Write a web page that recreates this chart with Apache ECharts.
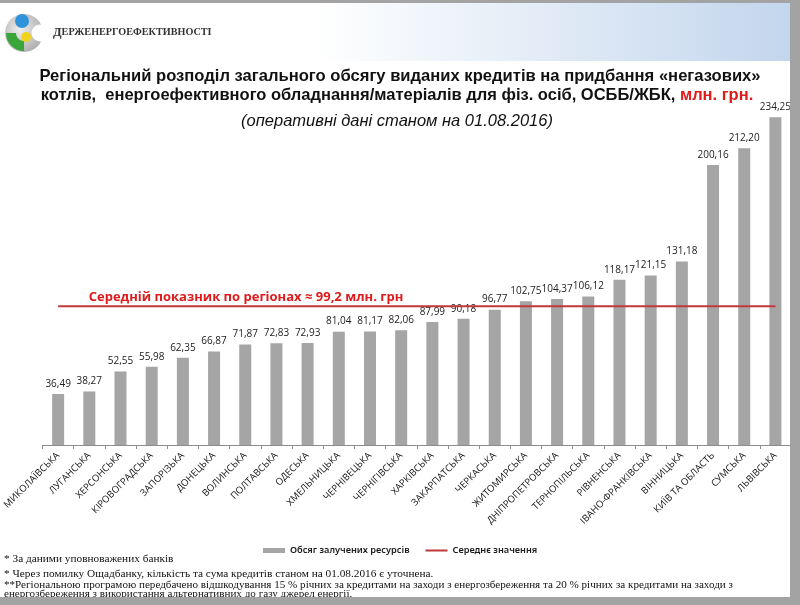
<!DOCTYPE html>
<html>
<head>
<meta charset="utf-8">
<script src="https://cdn.jsdelivr.net/npm/echarts@6/dist/echarts.min.js"></script>
<style>
  html, body { margin: 0; padding: 0; background: #a3a3a3; }
  #chart { width: 800px; height: 605px; }
</style>
</head>
<body>
<div id="chart"></div>
<script>
// регіони, впорядковані за зростанням
const regions = [
  'МИКОЛАЇВСЬКА', 'ЛУГАНСЬКА', 'ХЕРСОНСЬКА', 'КІРОВОГРАДСЬКА', 'ЗАПОРІЗЬКА',
  'ДОНЕЦЬКА', 'ВОЛИНСЬКА', 'ПОЛТАВСЬКА', 'ОДЕСЬКА', 'ХМЕЛЬНИЦЬКА',
  'ЧЕРНІВЕЦЬКА', 'ЧЕРНІГІВСЬКА', 'ХАРКІВСЬКА', 'ЗАКАРПАТСЬКА', 'ЧЕРКАСЬКА',
  'ЖИТОМИРСЬКА', 'ДНІПРОПЕТРОВСЬКА', 'ТЕРНОПІЛЬСЬКА', 'РІВНЕНСЬКА', 'ІВАНО-ФРАНКІВСЬКА',
  'ВІННИЦЬКА', 'КИЇВ ТА ОБЛАСТЬ', 'СУМСЬКА', 'ЛЬВІВСЬКА'
]
// обсяг залучених ресурсів, млн. грн
const volumes = [
  36.49, 38.27, 52.55, 55.98, 62.35,
  66.87, 71.87, 72.83, 72.93, 81.04,
  81.17, 82.06, 87.99, 90.18, 96.77,
  102.75, 104.37, 106.12, 118.17, 121.15,
  131.18, 200.16, 212.20, 234.25
]
const averageValue = 99.2
const averageLine = regions.map(() => averageValue)

const footnotes = [
  '* За даними уповноважених банків',
  '* Через помилку Ощадбанку, кількість та сума кредитів станом на 01.08.2016 є уточнена.',
  '**Регіональною програмою передбачено відшкодування 15 % річних за кредитами на заходи з енергозбереження та 20 % річних за кредитами на заходи з',
  'енергозбереження з використання альтернативних до газу джерел енергії.'
]

const chart = echarts.init(document.getElementById('chart'), null, { renderer: 'canvas' })

const option = {
  backgroundColor: '#a3a3a3',
  animation: false,
  grid: { left: 42, right: 9, top: 95.3, bottom: 160 },
  legend: {
    top: 546,
    left: 263,
    padding: 0,
    itemGap: 16,
    itemWidth: 22,
    itemHeight: 5,
    textStyle: { fontFamily: 'Noto Sans', fontSize: 9.2, color: '#1a1a1a', fontWeight: 600 },
    data: [
      { name: 'Обсяг залучених ресурсів', icon: 'rect' },
      // тонка лінія без маркера
      { name: 'Середнє значення', icon: 'path://M0,0 L0.01,0 M0,1.6 L22,1.6 L22,3.4 L0,3.4 Z M0,5 L0.01,5' }
    ]
  },
  xAxis: {
    type: 'category',
    data: regions,
    axisLine: { lineStyle: { color: '#8c8c8c', width: 1 } },
    axisTick: { show: true, length: 4, lineStyle: { color: '#8c8c8c' } },
    axisLabel: {
      rotate: 45,
      interval: 0,
      margin: 9,
      fontFamily: 'Open Sans',
      fontSize: 9.5,
      color: '#111'
    }
  },
  yAxis: {
    type: 'value',
    min: 0,
    max: 250,
    show: false,
    splitLine: { show: false }
  },
  series: [
    {
      name: 'Обсяг залучених ресурсів',
      type: 'bar',
      data: volumes,
      barWidth: 12,
      itemStyle: { color: '#a5a5a5' },
      label: {
        show: true,
        position: 'top',
        distance: 5,
        fontFamily: 'Open Sans',
        fontSize: 10,
        color: '#222',
        formatter: p => p.value.toFixed(2).replace('.', ',')
      },
      z: 2
    },
    {
      name: 'Середнє значення',
      type: 'line',
      data: averageLine,
      symbol: 'none',
      lineStyle: { color: '#c0393b', width: 2 },
      itemStyle: { color: '#c0393b' },
      z: 3
    }
  ],
  graphic: [
    // сторінка слайду
    { type: 'rect', z: -10, shape: { x: 0, y: 3, width: 790, height: 594 }, style: { fill: '#ffffff' } },
    {
      type: 'rect', z: -9,
      shape: { x: 0, y: 3, width: 790, height: 58 },
      style: {
        fill: new echarts.graphic.LinearGradient(0, 0, 1, 0, [
          { offset: 0, color: '#ffffff' },
          { offset: 0.4, color: '#ffffff' },
          { offset: 1, color: '#c3d6ed' }
        ])
      }
    },
    // логотип
    {
      type: 'circle', z: 5, shape: { cx: 24, cy: 33, r: 19 },
      style: {
        fill: new echarts.graphic.RadialGradient(0.4, 0.4, 0.7, [
          { offset: 0, color: '#eeeeee' },
          { offset: 1, color: '#a8a8a8' }
        ])
      }
    },
    { type: 'sector', z: 6, shape: { cx: 24, cy: 33, r: 18, r0: 8, startAngle: Math.PI * 0.5, endAngle: Math.PI * 1.0 }, style: { fill: '#3aa63a' } },
    { type: 'circle', z: 6, shape: { cx: 22, cy: 21, r: 7 }, style: { fill: '#2f93da' } },
    { type: 'circle', z: 6, shape: { cx: 26, cy: 37, r: 5 }, style: { fill: '#f2d21b' } },
    { type: 'circle', z: 7, shape: { cx: 40, cy: 33, r: 8.5 }, style: { fill: '#ffffff' } },
    {
      type: 'text', z: 8, left: 53, top: 26,
      style: {
        text: '{a|Д}{b|ЕРЖЕНЕРГОЕФЕКТИВНОСТІ}',
        rich: {
          a: { fontFamily: 'Liberation Serif', fontWeight: 'bold', fontSize: 12.5, fill: '#333' },
          b: { fontFamily: 'Liberation Serif', fontWeight: 'bold', fontSize: 10.2, fill: '#333' }
        }
      }
    },
    // заголовок
    {
      type: 'text', z: 8, x: 400, y: 68,
      style: {
        text: 'Регіональний розподіл загального обсягу виданих кредитів на придбання «негазових»',
        align: 'center',
        fontFamily: 'Liberation Sans', fontWeight: 'bold', fontSize: 16.6, fill: '#111'
      }
    },
    {
      type: 'text', z: 8, x: 397, y: 87,
      style: {
        text: '{k|котлів,  енергоефективного обладнання/матеріалів для фіз. осіб, ОСББ/ЖБК, }{r|млн. грн.}',
        align: 'center',
        rich: {
          k: { fontFamily: 'Liberation Sans', fontWeight: 'bold', fontSize: 16.5, fill: '#111' },
          r: { fontFamily: 'Liberation Sans', fontWeight: 'bold', fontSize: 16.5, fill: '#e01b1b' }
        }
      }
    },
    {
      type: 'text', z: 8, x: 397, y: 113,
      style: {
        text: '(оперативні дані станом на 01.08.2016)',
        align: 'center',
        fontFamily: 'Liberation Sans', fontStyle: 'italic', fontSize: 16.5, fill: '#111'
      }
    },
    // підпис середнього значення
    {
      type: 'text', z: 8, x: 246, y: 291,
      style: {
        text: 'Середній показник по регіонах ≈ 99,2 млн. грн',
        align: 'center',
        fontFamily: 'Open Sans', fontWeight: 'bold', fontSize: 13, fill: '#e0191b'
      }
    },
    // примітки
    {
      type: 'text', z: 8, left: 4, top: 552,
      style: {
        text: footnotes[0] + '\n' + footnotes[1],
        fontFamily: 'Liberation Serif', fontSize: 11.3, lineHeight: 15, fill: '#111'
      }
    },
    {
      type: 'text', z: 8, left: 4, top: 580,
      style: {
        text: footnotes[2] + '\n' + footnotes[3],
        fontFamily: 'Liberation Serif', fontSize: 11.1, lineHeight: 9, fill: '#111'
      }
    },
    // сіра рамка знизу і справа
    { type: 'rect', z: 20, shape: { x: 0, y: 597, width: 800, height: 8 }, style: { fill: '#a3a3a3' } },
    { type: 'rect', z: 20, shape: { x: 790, y: 0, width: 10, height: 605 }, style: { fill: '#a3a3a3' } },
    { type: 'rect', z: 20, shape: { x: 0, y: 0, width: 800, height: 3 }, style: { fill: '#a3a3a3' } }
  ]
}

chart.setOption(option)
</script>
</body>
</html>
